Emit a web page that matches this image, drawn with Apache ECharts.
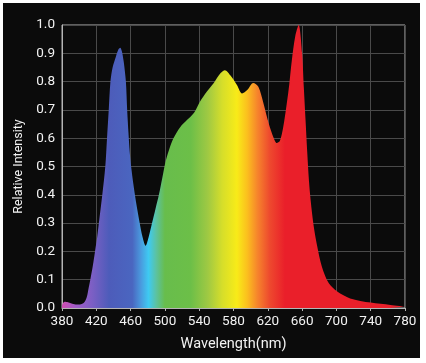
<!DOCTYPE html>
<html>
<head>
<meta charset="utf-8">
<script src="https://cdn.jsdelivr.net/npm/echarts@6/dist/echarts.min.js"></script>
<style>
html,body{margin:0;padding:0;background:#ffffff;}
#bg{position:absolute;left:3px;top:3px;width:417px;height:355px;background:#0b0b0b;}
#chart{position:absolute;left:0;top:0;width:426px;height:363px;}
</style>
</head>
<body>
<div id="bg"></div>
<div id="chart"></div>
<script>
const wavelengths = [380,383,387,392,397,402,406,409,411,413,416,418.5,421,423,427,430.5,432.5,434.5,436.5,439,443,446,448,450,452,454.5,456,457.5,459,461,465,470,474,477.5,481,485,489,493,497,501,506,510,518,526,534,541,549,557,565,570,576,584,590,596,603,609,615,621,627,630.5,634,638,642,645,648,652,656,660,662,664,666,668,670,673.5,677.5,683,691,701,716,740,763,780];
const intensity = [0.01,0.022,0.02,0.015,0.012,0.013,0.02,0.04,0.07,0.10,0.15,0.20,0.25,0.30,0.40,0.50,0.60,0.70,0.80,0.85,0.89,0.915,0.92,0.905,0.87,0.80,0.70,0.62,0.55,0.49,0.40,0.31,0.25,0.22,0.25,0.30,0.35,0.40,0.46,0.52,0.57,0.60,0.64,0.665,0.69,0.73,0.765,0.795,0.83,0.84,0.823,0.788,0.758,0.77,0.795,0.782,0.723,0.653,0.60,0.583,0.59,0.64,0.72,0.79,0.875,0.96,1.0,0.90,0.78,0.665,0.55,0.45,0.38,0.29,0.22,0.147,0.088,0.058,0.034,0.019,0.011,0.005];
const xTicks = [380,420,460,500,540,580,620,660,700,740,780];
const yTicks = [0.0,0.1,0.2,0.3,0.4,0.5,0.6,0.7,0.8,0.9,1.0];
const colorStopsNm = [380,395,415,435,462,472,481,490,500,530,550,567,584,596,608,622,640,780];
const colorStopsHex = ['#d04eb0','#a35cc8','#7c5fc4','#4d5cba','#4a66c0','#4a9ade','#3ecaf2','#5cc2a0','#68bd4c','#6cbf48','#9fc943','#d6de2a','#f8eb18','#fbbf1e','#f6842c','#ee4a2e','#ea1f2a','#ea1f2a'];

const chart = echarts.init(document.getElementById('chart'), null, {renderer:'canvas'});
const stops = colorStopsNm.map((nm,i)=>({offset:(nm-380)/400, color:colorStopsHex[i]}));
const txt = '#f2f2f2';
const font = 'Roboto';
chart.setOption({
  backgroundColor:'transparent',
  animation:false,
  grid:{left:62,right:21,top:25,bottom:55,show:true,borderColor:'#b5b5b5',borderWidth:1,backgroundColor:'transparent'},
  xAxis:{type:'value',min:xTicks[0],max:xTicks[xTicks.length-1],interval:40,
    name:'Wavelength(nm)',nameLocation:'middle',nameGap:29,
    nameTextStyle:{color:txt,fontSize:14.5,fontFamily:font},
    axisLine:{show:true,lineStyle:{color:'#b5b5b5',width:1}},
    axisTick:{show:true,length:3,lineStyle:{color:'#b5b5b5'}},
    axisLabel:{color:txt,fontSize:13.5,fontFamily:font,margin:7},
    splitLine:{show:true,lineStyle:{color:'#4a4a4a',width:1}}},
  yAxis:{type:'value',min:yTicks[0],max:yTicks[yTicks.length-1],interval:0.1,
    name:'Relative Intensity',nameLocation:'middle',nameGap:36,
    nameTextStyle:{color:txt,fontSize:12.5,fontFamily:font},
    axisLine:{show:true,lineStyle:{color:'#b5b5b5',width:1}},
    axisTick:{show:false},
    axisLabel:{color:txt,fontSize:13.5,fontFamily:font,margin:7,formatter:v=>v.toFixed(1)},
    splitLine:{show:true,lineStyle:{color:'#4a4a4a',width:1}}},
  series:[{type:'line',data:wavelengths.map((w,i)=>[w,intensity[i]]),
    smooth:0.3,symbol:'none',lineStyle:{width:0},
    areaStyle:{opacity:1,color:new echarts.graphic.LinearGradient(0,0,1,0,stops)}}]
});
</script>
</body>
</html>
